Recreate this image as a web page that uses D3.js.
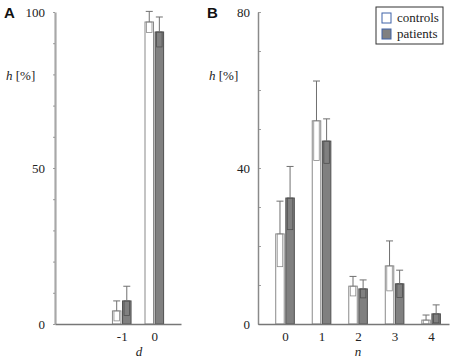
<!DOCTYPE html>
<html>
<head>
<meta charset="utf-8">
<script src="https://cdn.jsdelivr.net/npm/d3@7"></script>
<style>
  body { margin: 0; background: #fff; }
  svg { display: block; }
</style>
</head>
<body>
<svg width="454" height="359"></svg>
<script>
// Panel A: distribution of d
const dValues = [-1, 0];
const aControlMean = [4.2, 96.8];
const aControlSd = [3.2, 3.4];
const aPatientMean = [7.4, 93.6];
const aPatientSd = [4.7, 4.8];

// Panel B: distribution of n
const nValues = [0, 1, 2, 3, 4];
const bControlMean = [23.1, 52.1, 9.7, 14.9, 1.0];
const bControlSd = [8.4, 10.2, 2.5, 6.4, 1.3];
const bPatientMean = [32.3, 46.9, 9.0, 10.3, 2.6];
const bPatientSd = [8.1, 5.7, 2.3, 3.5, 2.3];

const aTicks = d3.range(0, 101, 10);
const aLabels = [0, 50, 100];
const bTicks = d3.range(0, 81, 10);
const bLabels = [0, 40, 80];

const svg = d3.select("svg");
svg.append("rect").attr("width", 454).attr("height", 359).attr("fill", "#fff");

const serif = "Liberation Serif";
const sans = "Liberation Sans";

function drawPanel(opts) {
  const g = svg.append("g");
  const x = d3.scaleLinear().domain(opts.xDomain).range(opts.xRange);
  const y = d3.scaleLinear().domain(opts.yDomain).range([324, 12]);

  // bars
  const barW = 8.5;
  const series = [
    { mean: opts.controlMean, sd: opts.controlSd, off: -barW - 0.8, fill: "#fff", stroke: "#8a8a8a" },
    { mean: opts.patientMean, sd: opts.patientSd, off: 0.8, fill: "#808080", stroke: "#505050" }
  ];
  series.forEach((s) => {
    const data = opts.xValues.map((v, i) => ({ v, m: s.mean[i], sd: s.sd[i] }));
    const bg = g.append("g");
    bg.selectAll("rect.bar")
      .data(data)
      .enter()
      .append("rect")
      .attr("class", "bar")
      .attr("x", (d) => x(d.v) + s.off)
      .attr("y", (d) => y(d.m))
      .attr("width", barW)
      .attr("height", (d) => y(0) - y(d.m))
      .attr("fill", s.fill)
      .attr("stroke", s.stroke)
      .attr("stroke-width", 1);
    // lower error drawn as inner box
    bg.selectAll("rect.low")
      .data(data)
      .enter()
      .append("rect")
      .attr("x", (d) => x(d.v) + s.off + 1.5)
      .attr("y", (d) => y(d.m))
      .attr("width", barW - 3)
      .attr("height", (d) => y(Math.max(0, d.m - d.sd)) - y(d.m))
      .attr("fill", "none")
      .attr("stroke", s.stroke)
      .attr("stroke-width", 0.8);
    // upper whisker
    bg.selectAll("line.whisk")
      .data(data)
      .enter()
      .append("line")
      .attr("x1", (d) => x(d.v) + s.off + barW / 2)
      .attr("x2", (d) => x(d.v) + s.off + barW / 2)
      .attr("y1", (d) => y(d.m))
      .attr("y2", (d) => y(d.m + d.sd))
      .attr("stroke", "#707070")
      .attr("stroke-width", 1);
    bg.selectAll("line.cap")
      .data(data)
      .enter()
      .append("line")
      .attr("x1", (d) => x(d.v) + s.off + barW / 2 - 3.5)
      .attr("x2", (d) => x(d.v) + s.off + barW / 2 + 3.5)
      .attr("y1", (d) => y(d.m + d.sd))
      .attr("y2", (d) => y(d.m + d.sd))
      .attr("stroke", "#707070")
      .attr("stroke-width", 1);
  });

  // y axis
  const yAxis = d3.axisLeft(y)
    .tickValues(opts.yTicks)
    .tickSizeInner(opts.tickIn)
    .tickSizeOuter(0)
    .tickPadding(8)
    .tickFormat((d) => (opts.yLabels.includes(d) ? String(d) : ""));
  const ya = g.append("g").attr("transform", `translate(${opts.xRange[0]},0)`).call(yAxis);
  ya.attr("font-family", serif).attr("font-size", 13);
  ya.select(".domain").attr("stroke", opts.axisColor).attr("stroke-width", opts.axisWidth);
  ya.selectAll(".tick line").attr("stroke", "#888").attr("stroke-width", 0.8);
  ya.selectAll(".tick text").attr("fill", "#222");

  // x axis baseline
  const xAxis = d3.axisBottom(x)
    .tickValues(opts.xValues)
    .tickSize(0)
    .tickPadding(8)
    .tickFormat((d) => String(d));
  const xa = g.append("g").attr("transform", `translate(0,${y(0)})`).call(xAxis);
  xa.attr("font-family", serif).attr("font-size", 13);
  xa.select(".domain").attr("stroke", "#777").attr("stroke-width", 1.5);
  xa.selectAll(".tick text").attr("fill", "#222");

  // axis titles
  g.append("text")
    .attr("x", opts.yTitleX)
    .attr("y", 80)
    .attr("font-family", serif)
    .attr("font-size", 13)
    .attr("fill", "#222")
    .html('<tspan font-style="italic">h</tspan> [%]');
  g.append("text")
    .attr("x", opts.xTitleX)
    .attr("y", 356)
    .attr("text-anchor", "middle")
    .attr("font-family", serif)
    .attr("font-style", "italic")
    .attr("font-size", 13)
    .attr("fill", "#222")
    .text(opts.xTitle);
  g.append("text")
    .attr("x", opts.letterX)
    .attr("y", 18)
    .attr("font-family", sans)
    .attr("font-weight", "bold")
    .attr("font-size", 15)
    .attr("fill", "#111")
    .text(opts.letter);
}

drawPanel({
  letter: "A", letterX: 4,
  xValues: dValues, xDomain: [-3.05, 0.82], xRange: [55, 181],
  yDomain: [0, 100], yTicks: aTicks, yLabels: aLabels,
  controlMean: aControlMean, controlSd: aControlSd,
  patientMean: aPatientMean, patientSd: aPatientSd,
  tickIn: 2, axisColor: "#a8a8a8", axisWidth: 2.2,
  yTitleX: 6, xTitle: "d", xTitleX: 139
});

drawPanel({
  letter: "B", letterX: 207,
  xValues: nValues, xDomain: [-0.74, 4.49], xRange: [258, 449],
  yDomain: [0, 80], yTicks: bTicks, yLabels: bLabels,
  controlMean: bControlMean, controlSd: bControlSd,
  patientMean: bPatientMean, patientSd: bPatientSd,
  tickIn: -3, axisColor: "#8a8a8a", axisWidth: 1.5,
  yTitleX: 209, xTitle: "n", xTitleX: 358
});

// legend
const legendItems = [
  { label: "controls", fill: "#fff" },
  { label: "patients", fill: "#808080" }
];
const lg = svg.append("g").attr("transform", "translate(376,7)");
lg.append("rect")
  .attr("width", 67).attr("height", 37)
  .attr("fill", "#fff").attr("stroke", "#333").attr("stroke-width", 1);
const li = lg.selectAll("g.item").data(legendItems).enter().append("g")
  .attr("transform", (d, i) => `translate(6,${6 + i * 16})`);
li.append("rect")
  .attr("width", 9).attr("height", 10)
  .attr("fill", (d) => d.fill)
  .attr("stroke", "#3f62a8").attr("stroke-width", 1);
li.append("text")
  .attr("x", 15).attr("y", 9)
  .attr("font-family", serif).attr("font-size", 13).attr("fill", "#222")
  .text((d) => d.label);
</script>
</body>
</html>
